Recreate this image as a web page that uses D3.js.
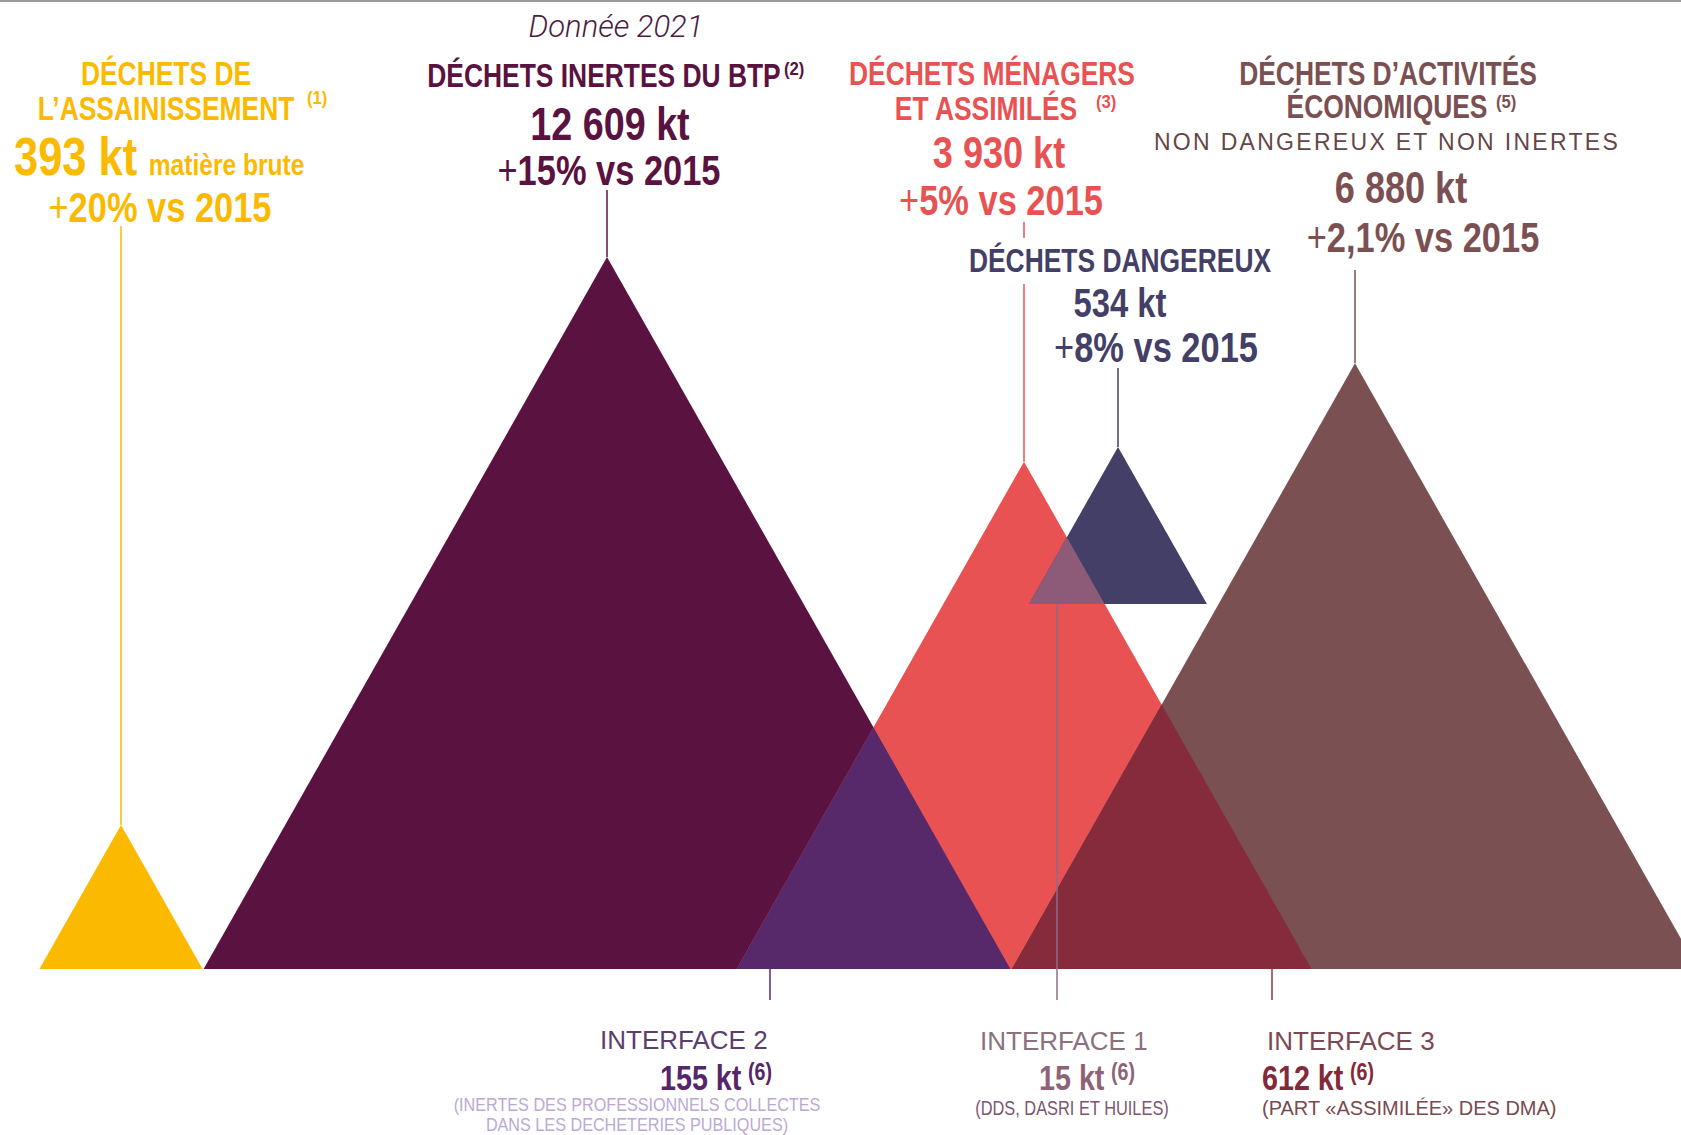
<!DOCTYPE html>
<html>
<head>
<meta charset="utf-8">
<script src="https://cdn.jsdelivr.net/npm/d3@7"></script>
<style>
  body { margin: 0; background: #fff; }
  svg { display: block; }
  text { font-family: "Liberation Sans", Arial, sans-serif; }
  .bold { font-weight: bold; }
</style>
</head>
<body>
<svg></svg>
<script>
// waste streams, 2021 (kt) -- values
var categories = ["assainissement", "btp", "menagers", "dangereux", "activites"];
var titleLines = [
  ["DÉCHETS DE", "L’ASSAINISSEMENT"],
  ["DÉCHETS INERTES DU BTP"],
  ["DÉCHETS MÉNAGERS", "ET ASSIMILÉS"],
  ["DÉCHETS DANGEREUX"],
  ["DÉCHETS D’ACTIVITÉS", "ÉCONOMIQUES"]
];
var notes = ["(1)", "(2)", "(3)", "", "(5)"];
var valuesKt = [393, 12609, 3930, 534, 6880];
var growth = ["20%", "15%", "5%", "8%", "2,1%"];
var refYear = 2015;

// interfaces = overlap between two streams
var interfaceNames = ["INTERFACE 2", "INTERFACE 1", "INTERFACE 3"];
var interfacePairs = [["btp", "menagers"], ["menagers", "dangereux"], ["menagers", "activites"]];
var interfaceKt = [155, 15, 612];
var interfaceNotes = [
  ["(INERTES DES PROFESSIONNELS COLLECTES", "DANS LES DECHETERIES PUBLIQUES)"],
  ["(DDS, DASRI ET HUILES)"],
  ["(PART «ASSIMILÉE» DES DMA)"]
];

var svgWidth = 1681, svgHeight = 1135;
var baseline = 969;
var narrow = 0.82; // no condensed font installed, squeeze Liberation Sans instead

var colors = { assainissement: "#FBBA00", btp: "#5A1240", menagers: "#E85252", dangereux: "#433F66", activites: "#7A5052" };
var interfaceFill = ["#58296A", "#8D5A78", "#852B3C"];
var interfaceText = ["#5B3D6E", "#8C7080", "#7A4A52"];
var interfaceValue = ["#55266A", "#8E6378", "#832A3A"];
var interfaceLine = ["#5B2A6B", "#8E6E84", "#8A3A48"];
var interfaceNoteColor = ["#BBA9D3", "#7E5570", "#7A4A50"];

// where each triangle sits (apex x, base y)
var cx = [121, 607, 1024, 1118, 1355];
var baseY = [baseline, baseline, baseline, 604, baseline];

// the graphic is not drawn to one linear scale: log scale, bent at the small values
var heightScale = d3.scaleLog()
  .domain([393, 534, 12609])
  .range([144, 157, 712]);
var slope = 1.765; // height / half base

var fr = d3.formatLocale({ decimal: ",", thousands: " ", grouping: [3], currency: ["", " €"] });
var fmt = fr.format(",");

var svg = d3.select("svg")
  .attr("width", svgWidth)
  .attr("height", svgHeight);

svg.append("rect")
  .attr("width", svgWidth).attr("height", 2)
  .attr("fill", "#9a9a9a");

function tri(i) {
  var h = heightScale(valuesKt[i]), w = h / slope;
  return { x0: cx[i] - w, x1: cx[i] + w, top: baseY[i] - h, bottom: baseY[i] };
}
var tris = categories.map(function(c, i) { return tri(i); });
function triPath(t) {
  return "M" + t.x0 + "," + t.bottom + "L" + (t.x0 + t.x1) / 2 + "," + t.top + "L" + t.x1 + "," + t.bottom + "Z";
}

var defs = svg.append("defs");
categories.forEach(function(c, i) {
  defs.append("clipPath").attr("id", "clip-" + c)
    .append("path").attr("d", triPath(tris[i]));
});

svg.selectAll("path.tri")
  .data(categories)
  .enter()
  .append("path")
  .attr("class", "tri")
  .attr("d", function(c, i) { return triPath(tris[i]); })
  .attr("fill", function(c) { return colors[c]; });

// overlaps
svg.selectAll("path.overlap")
  .data(interfacePairs)
  .enter()
  .append("path")
  .attr("class", "overlap")
  .attr("d", function(p) { return triPath(tris[categories.indexOf(p[1])]); })
  .attr("clip-path", function(p) { return "url(#clip-" + p[0] + ")"; })
  .attr("fill", function(p, i) { return interfaceFill[i]; });

// condensed text: translate then squeeze horizontally
function ctext(parent, x, y, anchor, size, sx) {
  return parent.append("text")
    .attr("transform", "translate(" + x + "," + y + ") scale(" + (sx || narrow) + ",1)")
    .attr("text-anchor", anchor)
    .style("font-size", size + "px");
}

// ---------- labels on top ----------
svg.append("text")
  .attr("x", 616).attr("y", 37)
  .attr("text-anchor", "middle")
  .style("font-family", "Roboto, 'Liberation Sans', sans-serif")
  .style("font-weight", 300).style("font-style", "italic")
  .style("font-size", "31px")
  .attr("fill", "#4B1D3F")
  .text("Donnée 2021");

// label layout per stream
var labelPos = [
  { title: [[166, 85], [166, 120]], note: [307, 104], value: [14, 175, "start"], valueSize: 53, growth: [160, 222], lead: 226 },
  { title: [[604, 87]], note: [784, 75], value: [610, 140, "middle"], valueSize: 46, growth: [609, 185], lead: 190 },
  { title: [[992, 85], [986, 120]], note: [1096, 108], value: [999, 168, "middle"], valueSize: 44, growth: [1001, 215], lead: 222, gap: [238, 284] },
  { title: [[1120, 272]], note: null, value: [1120, 317, "middle"], valueSize: 40, growth: [1156, 362], lead: 368 },
  { title: [[1388, 85], [1387, 118]], note: [1496, 108], value: [1401, 203, "middle"], valueSize: 44, growth: [1423, 252], lead: 270 }
];

categories.forEach(function(c, i) {
  var p = labelPos[i], col = colors[c];
  var g = svg.append("g").attr("fill", col).attr("class", "bold");

  // leader line
  var segs = p.gap ? [[p.lead, p.gap[0]], [p.gap[1], tris[i].top]] : [[p.lead, tris[i].top]];
  segs.forEach(function(s) {
    svg.append("line")
      .attr("x1", cx[i]).attr("x2", cx[i])
      .attr("y1", s[0]).attr("y2", s[1])
      .attr("stroke", col).attr("stroke-width", 1.5);
  });

  titleLines[i].forEach(function(t, k) {
    ctext(g, p.title[k][0], p.title[k][1], "middle", 33, 0.8).text(t);
  });
  if (p.note) {
    ctext(g, p.note[0], p.note[1], "start", 19, 0.88).text(notes[i]);
  }

  var v = ctext(g, p.value[0], p.value[1], p.value[2], p.valueSize)
    .text(fmt(valuesKt[i]) + " kt");
  if (c === "assainissement") {
    v.append("tspan").attr("dx", 14).style("font-size", "30px").text("matière brute");
  }

  var gr = ctext(g, p.growth[0], p.growth[1], "middle", 42);
  gr.append("tspan").style("font-weight", "normal").style("font-size", "42px").text("+");
  gr.append("tspan").text(growth[i] + " vs " + refYear);
});

svg.append("text")
  .attr("x", 1387).attr("y", 150)
  .attr("text-anchor", "middle")
  .style("font-size", "23px").style("letter-spacing", "2.3px")
  .attr("fill", "#654646")
  .text("NON DANGEREUX ET NON INERTES");

// ---------- interfaces ----------
var ifacePos = [
  { line: [770, baseline, 1000], title: [600, 1049], value: [660, 1090], note: [[637, 1111, "middle"], [637, 1131, "middle"]], size: 18, sx: 0.9 },
  { line: [1057, 604, 1000], title: [980, 1050], value: [1039, 1090], note: [[1072, 1115, "middle"]], size: 20, sx: narrow },
  { line: [1272, baseline, 1000], title: [1267, 1050], value: [1262, 1090], note: [[1262, 1115, "start"]], size: 20, sx: 1 }
];

interfaceNames.forEach(function(name, i) {
  var p = ifacePos[i];
  svg.append("line")
    .attr("x1", p.line[0]).attr("x2", p.line[0])
    .attr("y1", p.line[1]).attr("y2", p.line[2])
    .attr("stroke", interfaceLine[i]).attr("stroke-width", 1.5);

  svg.append("text")
    .attr("x", p.title[0]).attr("y", p.title[1])
    .style("font-size", "26px")
    .attr("fill", interfaceText[i])
    .text(name);

  var t = ctext(svg, p.value[0], p.value[1], "start", 35)
    .attr("class", "bold")
    .attr("fill", interfaceValue[i])
    .text(fmt(interfaceKt[i]) + " kt");
  t.append("tspan").attr("dx", 8).attr("dy", -10).style("font-size", "24px").text("(6)");

  interfaceNotes[i].forEach(function(n, k) {
    ctext(svg, p.note[k][0], p.note[k][1], p.note[k][2], p.size, p.sx)
      .attr("fill", interfaceNoteColor[i])
      .text(n);
  });
});
</script>
</body>
</html>
